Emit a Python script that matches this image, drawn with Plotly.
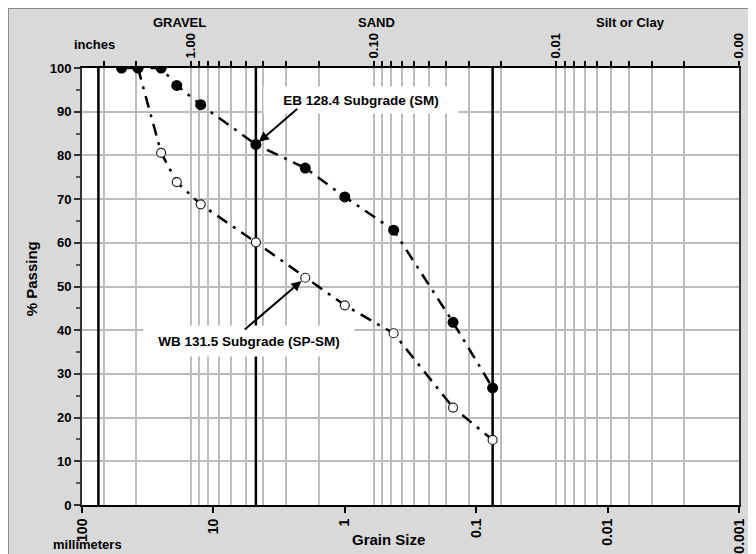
import numpy as np
import plotly.graph_objects as go

# ---- data ----
eb_size_mm = [50, 37.5, 25, 19, 12.5, 4.75, 2.0, 1.0, 0.425, 0.15, 0.075]
eb_passing = [100, 100, 100, 96.0, 91.6, 82.5, 77.1, 70.5, 62.9, 41.8, 26.8]

wb_size_mm = [37.5, 25, 19, 12.5, 4.75, 2.0, 1.0, 0.425, 0.15, 0.075]
wb_passing = [100, 80.6, 73.9, 68.8, 60.1, 52.0, 45.7, 39.3, 22.3, 14.9]

boundaries_mm = [75, 4.75, 0.075]

mm_ticks = [100, 10, 1, 0.1, 0.01, 0.001]
mm_labels = ["100", "10", "1", "0.1", "0.01", "0.001"]

inch_major = [1, 0.1, 0.01, 0.001]
inch_labels = ["1.00", "0.10", "0.01", "0.00"]
inch_minor = [3, 2, 0.9, 0.8, 0.7, 0.6, 0.5, 0.4, 0.3, 0.2,
              0.09, 0.08, 0.07, 0.06, 0.05, 0.04, 0.03, 0.02,
              0.009, 0.008, 0.007, 0.006, 0.005, 0.004, 0.003, 0.002]

FONT = "Liberation Sans, Arial, sans-serif"
GRID = "#bcbcbc"

inch_vals = inch_minor + inch_major
inch_text = [""] * len(inch_minor) + ["<b>%s</b>" % t for t in inch_labels]

fig = go.Figure()

# soil class boundary lines
for b in boundaries_mm:
    fig.add_trace(go.Scatter(x=[b, b], y=[0, 100], mode="lines",
                             line=dict(color="black", width=2.5),
                             showlegend=False, hoverinfo="skip"))

# dummy trace for inch axis
fig.add_trace(go.Scatter(x=[1], y=[None], xaxis="x2", mode="markers",
                         showlegend=False, hoverinfo="skip"))

fig.add_trace(go.Scatter(
    x=wb_size_mm, y=wb_passing, mode="lines+markers", name="WB 131.5",
    line=dict(color="black", width=2.5, dash="12px,7px,3px,7px"),
    marker=dict(symbol="circle", size=9, color="white",
                line=dict(color="#222", width=1.2)),
    showlegend=False))

fig.add_trace(go.Scatter(
    x=eb_size_mm, y=eb_passing, mode="lines+markers", name="EB 128.4",
    line=dict(color="black", width=2.5, dash="12px,7px,3px,7px"),
    marker=dict(symbol="circle", size=11, color="black"),
    showlegend=False))

ann = []
def txt(t, x, y, size, angle=0):
    ann.append(dict(text="<b>%s</b>" % t, x=x, y=y, xref="paper", yref="paper",
                    xanchor="center", yanchor="middle",
                    showarrow=False, textangle=angle,
                    font=dict(family=FONT, size=size, color="black")))

txt("GRAVEL", 0.149, 1.1037, 13)
txt("SAND", 0.4475, 1.1037, 13)
txt("Silt or Clay", 0.835, 1.1037, 13)
txt("inches", 0.0183, 1.0549, 13)
txt("millimeters", 0.0091, -0.0905, 13)
txt("Grain Size", 0.467, -0.080, 15)
txt("% Passing", -0.0766, 0.518, 15, angle=-90)

# label boxes
ann.append(dict(text="<b>EB 128.4 Subgrade (SM)</b>", x=0.4247, y=0.9268,
                xref="paper", yref="paper", showarrow=False,
                xanchor="center", yanchor="middle",
                bgcolor="white", width=192, height=24,
                font=dict(family=FONT, size=13.5, color="black")))
ann.append(dict(text="<b>WB 131.5 Subgrade (SP-SM)</b>", x=0.2542, y=0.3753,
                xref="paper", yref="paper", showarrow=False,
                xanchor="center", yanchor="middle",
                bgcolor="white", width=208, height=28,
                font=dict(family=FONT, size=13.5, color="black")))

# arrows
ann.append(dict(text="", x=np.log10(eb_size_mm[5]), y=eb_passing[5],
                xref="x", yref="y", showarrow=True, ax=43, ay=-37,
                arrowhead=2, arrowsize=1, arrowwidth=2, arrowcolor="black",
                standoff=4))
ann.append(dict(text="", x=np.log10(wb_size_mm[5]), y=wb_passing[5],
                xref="x", yref="y", showarrow=True, ax=-62, ay=53,
                arrowhead=2, arrowsize=1, arrowwidth=2, arrowcolor="black",
                standoff=5))

tickfont = dict(family=FONT, size=13, color="black", weight="bold")

fig.update_layout(
    width=756, height=554,
    margin=dict(l=74, r=25, t=60, b=57, autoexpand=False),
    paper_bgcolor="#d9d9d9",
    plot_bgcolor="white",
    annotations=ann,
    xaxis=dict(type="log", range=[2, -3], tickvals=mm_ticks,
               ticktext=["<b>%s</b>" % t for t in mm_labels], automargin=False,
               tickangle=-90, tickfont=dict(family=FONT, size=14, color="black"),
               showgrid=False, zeroline=False, showline=True, linecolor="black",
               linewidth=2, ticks="outside", ticklen=6, tickwidth=2, tickcolor="black"),
    xaxis2=dict(type="log", range=[np.log10(100 / 25.4), -3], overlaying="x",
                side="top", anchor="y", tickvals=inch_vals, ticktext=inch_text,
                automargin=False,
                tickangle=-90, tickfont=dict(family=FONT, size=13, color="black"),
                showgrid=True, gridcolor=GRID,
                gridwidth=1.5, zeroline=False, showline=True, linecolor="black",
                linewidth=2, ticks="outside", ticklen=5, tickwidth=1.5,
                tickcolor="black"),
    yaxis=dict(range=[0, 100], dtick=10, tickfont=tickfont, showgrid=True,
               automargin=False,
               gridcolor=GRID, gridwidth=1.5, zeroline=False, showline=True,
               linecolor="#333", linewidth=2, mirror=True, ticks="outside",
               ticklen=6, tickwidth=1.5, tickcolor="#333",
               minor=dict(dtick=5, ticks="outside", ticklen=4, tickcolor="#555",
                          showgrid=False)),
    shapes=[
        # frame border at the top and left edges of the figure
        dict(type="line", xref="paper", yref="paper",
             x0=-0.1126, x1=1.1, y0=1.1373, y1=1.1373,
             line=dict(color="#8c8c8c", width=2), layer="below"),
        dict(type="line", xref="paper", yref="paper",
             x0=-0.1126, x1=-0.1126, y0=-0.2, y1=1.1373,
             line=dict(color="#8c8c8c", width=2), layer="below"),
    ],
)

fig.write_html("out.html")
